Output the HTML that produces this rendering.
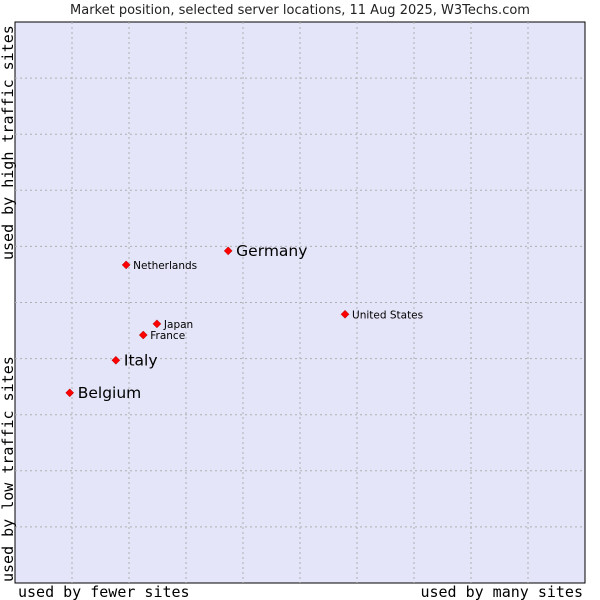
<!DOCTYPE html>
<html><head><meta charset="utf-8"><style>
body{margin:0;background:#fff;}
svg{display:block;font-family:"DejaVu Sans","Liberation Sans",sans-serif;}
</style></head><body>
<svg width="600" height="600">
<text x="300" y="14" text-anchor="middle" font-size="13" fill="#222">Market position, selected server locations, 11 Aug 2025, W3Techs.com</text>
<rect x="15" y="22" width="570" height="561" fill="#e4e5f8" stroke="#000" stroke-width="1"/>
<g id="grid"></g>
<g id="pts"></g>
<text x="18" y="597" font-family="DejaVu Sans Mono,Liberation Mono,monospace" font-size="15">used by fewer sites</text>
<text x="583" y="597" text-anchor="end" font-family="DejaVu Sans Mono,Liberation Mono,monospace" font-size="15">used by many sites</text>
<text transform="translate(13,260) rotate(-90)" text-anchor="start" font-family="DejaVu Sans Mono,Liberation Mono,monospace" font-size="15">used by high traffic sites</text>
<text transform="translate(13,582) rotate(-90)" text-anchor="start" font-family="DejaVu Sans Mono,Liberation Mono,monospace" font-size="15">used by low traffic sites</text>
</svg>
<script>
const names=["Germany","Netherlands","United States","Japan","France","Italy","Belgium"];
const xVals=[37.4,19.5,57.9,24.9,22.5,17.7,9.6];
const yVals=[59.2,56.7,47.9,46.2,44.2,39.7,33.9];
const big=[true,false,false,false,false,true,true];
const NS="http://www.w3.org/2000/svg";
const L=15,T=22,W=570,H=561;
const sx=v=>L+v/100*W, sy=v=>T+H-v/100*H;
const g=document.getElementById('grid');
for(let i=1;i<10;i++){
 const a=document.createElementNS(NS,'line');
 a.setAttribute('x1',sx(i*10));a.setAttribute('x2',sx(i*10));a.setAttribute('y1',T);a.setAttribute('y2',T+H);
 a.setAttribute('stroke','#b0b0b0');a.setAttribute('stroke-dasharray','2,3');
 
 
 g.appendChild(a);
 const b=document.createElementNS(NS,'line');
 b.setAttribute('y1',sy(i*10));b.setAttribute('y2',sy(i*10));b.setAttribute('x1',L);b.setAttribute('x2',L+W);
 b.setAttribute('stroke','#b0b0b0');b.setAttribute('stroke-dasharray','2,3');
 
 
 g.appendChild(b);
}
const p=document.getElementById('pts');
names.forEach((n,i)=>{
 const x=sx(xVals[i]),y=sy(yVals[i]);
 const d=document.createElementNS(NS,'path');
 d.setAttribute('d',`M${x-4},${y}L${x},${y-4}L${x+4},${y}L${x},${y+4}Z`);
 d.setAttribute('fill','#f00');d.setAttribute('stroke','#a00');d.setAttribute('stroke-width','0.5');
 
 
 p.appendChild(d);
 const t=document.createElementNS(NS,'text');
 t.setAttribute('x',x+(big[i]?8:7));t.setAttribute('y',y+(big[i]?5:4));
 t.setAttribute('font-size',big[i]?15.5:10.5);t.setAttribute('fill','#000');
 t.textContent=n;
 
 
 p.appendChild(t);
});
</script>
</body></html>
